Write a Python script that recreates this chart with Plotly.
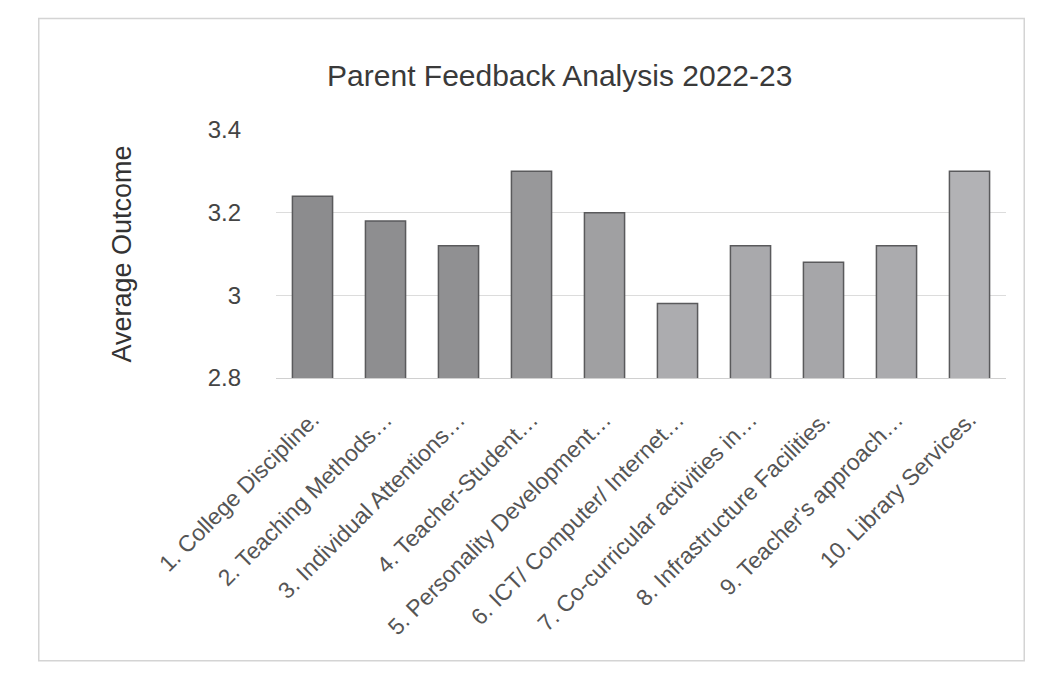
import plotly.graph_objects as go

categories = [
    "1. College Discipline.",
    "2. Teaching Methods…",
    "3. Individual Attentions…",
    "4. Teacher-Student…",
    "5. Personality Development…",
    "6. ICT/ Computer/ Internet…",
    "7. Co-curricular activities in…",
    "8. Infrastructure Facilities.",
    "9. Teacher's approach…",
    "10. Library Services.",
]
values = [3.24, 3.18, 3.12, 3.30, 3.20, 2.98, 3.12, 3.08, 3.12, 3.30]
y_ticks = [2.8, 3.0, 3.2, 3.4]
y_tick_labels = ["2.8", "3", "3.2", "3.4"]

bar_colors = ["#8c8c8e", "#8e8e90", "#909092", "#98989a", "#a0a0a2",
              "#acacaf", "#a9a9ac", "#a6a6a9", "#ababae", "#b2b2b5"]

fig = go.Figure()
fig.add_trace(go.Bar(
    x=categories,
    y=values,
    marker=dict(color=bar_colors, line=dict(color="#5a5a5c", width=1.5)),
    width=0.55,
))

fig.update_layout(
    width=1041, height=674,
    margin=dict(l=268, r=43, t=122, b=304),
    paper_bgcolor="white", plot_bgcolor="white",
    showlegend=False,
    font=dict(family="Liberation Sans, Arial, sans-serif", color="#333333"),
    title=dict(text="Parent Feedback Analysis 2022-23", x=0.53, xanchor="center",
               y=0.9, yanchor="middle", font=dict(size=30, color="#3a3a3a")),
    bargap=0.45,
)
fig.update_yaxes(
    range=[2.8, 3.4],
    tickvals=y_ticks, ticktext=y_tick_labels,
    tickfont=dict(size=24, color="#444444"),
    showgrid=True, gridcolor="#dcdcdc", gridwidth=1,
    zeroline=False, showline=False, ticks="",
    ticklabelstandoff=34,
    title=dict(text="Average Outcome", font=dict(size=27, color="#333333"), standoff=68),
)
fig.update_xaxes(
    tickangle=-45,
    tickfont=dict(size=23, color="#555555"),
    showline=True, linecolor="#d0d0d0", ticks="",
    ticklabelstandoff=18,
)
fig.add_shape(type="rect", xref="paper", yref="paper",
              x0=-0.325, x1=1.025, y0=-1.14, y1=1.45,
              line=dict(color="#d4d4d4", width=1.5), fillcolor="rgba(0,0,0,0)", layer="below")

fig.write_html("out.html")
